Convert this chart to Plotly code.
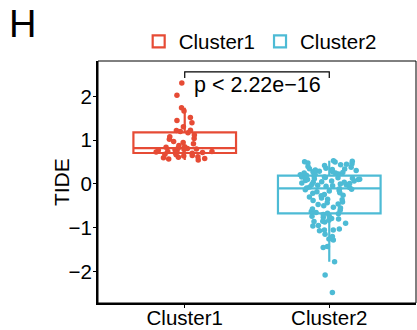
import plotly.graph_objects as go

categories = ["Cluster1", "Cluster2"]
colors = ["#E64B35", "#4DBBD5"]

cluster1 = [0.55, 0.57, 0.58, 0.60, 0.61, 0.62, 0.64, 0.65, 0.67, 0.68, 0.70,
            0.71, 0.72, 0.73, 0.74, 0.74, 0.76, 0.77, 0.78, 0.79, 0.80, 0.81,
            0.82, 0.84, 0.85, 0.88, 0.92, 0.95, 0.97, 1.02, 1.04, 1.08, 1.12,
            1.17, 1.20, 1.22, 1.23, 1.31, 1.40, 1.45, 1.52, 1.67, 1.74, 2.03, 2.31]

cluster2 = [-2.48, -2.08, -1.78, -1.45, -1.43, -1.28, -1.26, -1.20, -1.15, -1.07,
            -1.05, -1.05, -1.03, -0.96, -0.95, -0.90, -0.87, -0.86, -0.85, -0.83,
            -0.80, -0.79, -0.76, -0.74, -0.73, -0.70, -0.68, -0.67,
            -0.65, -0.63, -0.60, -0.57, -0.55, -0.53, -0.50, -0.47, -0.46, -0.43,
            -0.41, -0.38, -0.36, -0.35, -0.32, -0.30, -0.27, -0.26, -0.24, -0.21,
            -0.20, -0.18, -0.16, -0.15, -0.13, -0.12, -0.11,
            -0.09, -0.08, -0.07, -0.05, -0.04, -0.03, -0.02, -0.01, 0.00, 0.01,
            0.02, 0.04, 0.04, 0.05, 0.07, 0.07, 0.08, 0.10, 0.10, 0.11, 0.12,
            0.13, 0.14, 0.15, 0.16, 0.16, 0.17,
            0.19, 0.20, 0.21, 0.22, 0.23, 0.25, 0.25, 0.26, 0.28, 0.28, 0.29,
            0.31, 0.32, 0.33, 0.34, 0.35, 0.36, 0.38, 0.40, 0.42, 0.44, 0.45,
            0.46, 0.48, 0.50, 0.51, 0.52, 0.53]

series = [cluster1, cluster2]
y_ticks = [-2, -1, 0, 1, 2]
p_label = "p < 2.22e\u221216"
panel_label = "H"
y_title = "TIDE"

FONT = "Liberation Sans, Arial, sans-serif"

fig = go.Figure()
for name, vals, col in zip(categories, series, colors):
    fig.add_trace(go.Box(
        x=[name] * len(vals), y=vals, name=name,
        boxpoints="all", jitter=0.6, pointpos=0,
        width=0.71, whiskerwidth=0,
        line=dict(color=col, width=2.2),
        fillcolor="rgba(255,255,255,0)",
        marker=dict(color=col, size=5.5, line=dict(width=0)),
        hoverinfo="skip",
    ))

# significance bracket
fig.add_shape(type="path", xref="x", yref="y",
              path="M 0,2.42 L 0,2.56 L 1,2.56 L 1,2.42",
              line=dict(color="black", width=1.2))
fig.add_annotation(x=0.5, y=2.27, xref="x", yref="y", text=p_label,
                   showarrow=False, font=dict(size=21.5, color="black", family=FONT))
# panel border
fig.add_shape(type="rect", xref="paper", yref="paper", x0=0, y0=0, x1=1, y1=1,
              line=dict(color="black", width=1))
fig.add_annotation(x=-0.287, y=1.152, xref="paper", yref="paper", text=panel_label,
                   showarrow=False, xanchor="left", yanchor="middle",
                   font=dict(size=38, color="black", family=FONT))
fig.add_annotation(x=-0.116, y=0.5, xref="paper", yref="paper", text=y_title,
                   showarrow=False, textangle=-90, xanchor="center", yanchor="middle",
                   font=dict(size=21, color="black", family=FONT))

fig.update_layout(
    width=417, height=330,
    margin=dict(l=98, r=1, t=61, b=27),
    paper_bgcolor="white", plot_bgcolor="white",
    boxmode="overlay",
    font=dict(family=FONT, size=21, color="black"),
    legend=dict(orientation="h", x=0.51, xanchor="center", y=1.08, yanchor="middle",
                font=dict(size=20.5), itemwidth=30, tracegroupgap=0,
                bgcolor="rgba(0,0,0,0)"),
    xaxis=dict(range=[-0.6, 1.6], showline=True, linecolor="black", linewidth=2,
               ticks="outside", ticklen=3, tickcolor="black", showgrid=False,
               zeroline=False, tickfont=dict(size=20.5), automargin=False,
               ticklabelstandoff=-8),
    yaxis=dict(range=[-2.72, 2.81], tickvals=y_ticks, showline=True, linecolor="black",
               linewidth=2, ticks="outside", ticklen=3, tickcolor="black",
               showgrid=False, zeroline=False, tickfont=dict(size=20.5),
               automargin=False, ticklabelstandoff=-3),
)

fig.write_html("out.html")
